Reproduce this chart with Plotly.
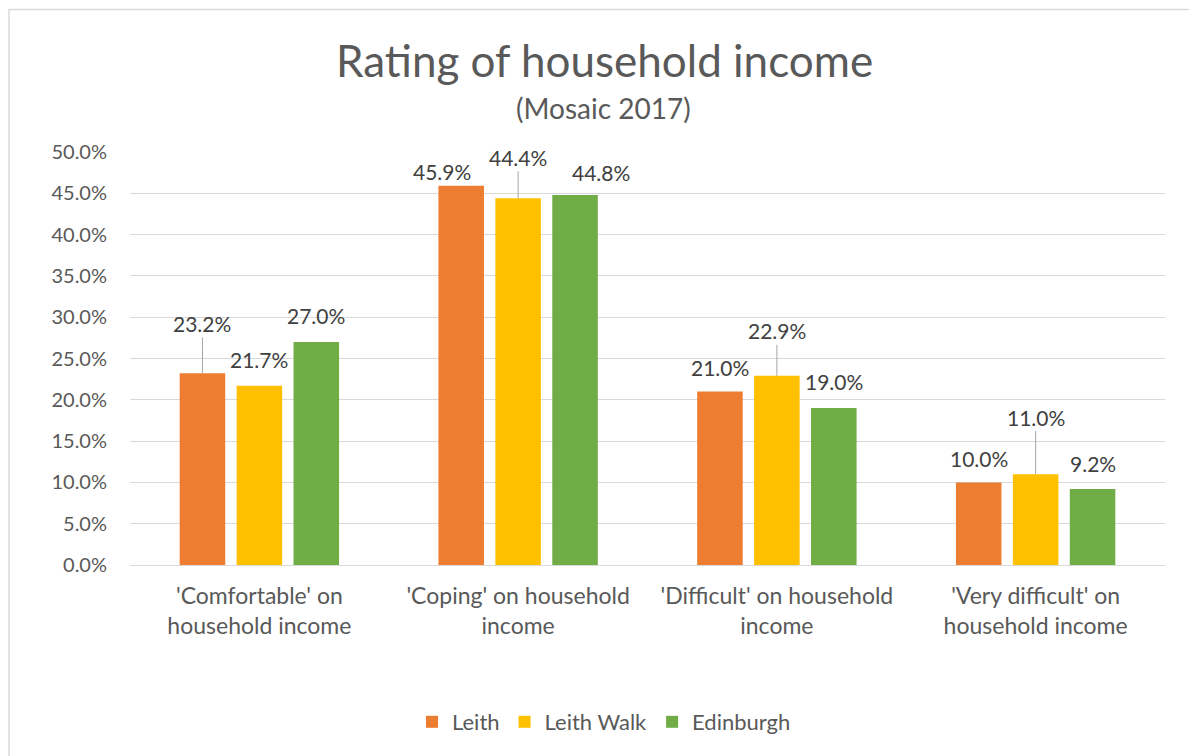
import plotly.graph_objects as go

categories = ["'Comfortable' on<br>household income", "'Coping' on household<br>income",
              "'Difficult' on household<br>income", "'Very difficult' on<br>household income"]
series_names = ["Leith", "Leith Walk", "Edinburgh"]
leith = [0.232, 0.459, 0.210, 0.100]
leith_walk = [0.217, 0.444, 0.229, 0.110]
edinburgh = [0.270, 0.448, 0.190, 0.092]
y_ticks = [0, 0.05, 0.10, 0.15, 0.20, 0.25, 0.30, 0.35, 0.40, 0.45, 0.50]

values = [leith, leith_walk, edinburgh]
colors = ["#ED7D31", "#FFC000", "#70AD47"]

OFF = 8  # page body margin
W, H = 1197 - OFF, 756 - OFF
PLOT_L, PLOT_R, PLOT_T, PLOT_B = 130, 1165, 152, 565  # target page coords
ML, MT = PLOT_L - OFF, PLOT_T - OFF
MR, MB = W - (PLOT_R - OFF), H - (PLOT_B - OFF)
PW, PH = W - ML - MR, H - MT - MB
BARGAP, GROUPGAP = 0.34, 0.2
cat_px = PW / len(categories)
slot_px = cat_px * (1 - BARGAP) / 3


def py(page_y):
    return (PLOT_B - page_y) / PH


def px(page_x):
    return (page_x - PLOT_L) / PW


# label placement (pixel offsets): (dx, dy_center, leader)
label_style = {
    (0, 0): (0, 50, True), (0, 1): (0, 26, False), (0, 2): (0, 26, False),
    (1, 0): (-19, 14, False), (1, 1): (0, 41, True), (1, 2): (26, 22, False),
    (2, 0): (0, 24, False), (2, 1): (0, 45, True), (2, 2): (0, 27, False),
    (3, 0): (0, 24, False), (3, 1): (0, 57, True), (3, 2): (0, 26, False),
}

FONT = "Lato"
LBL = dict(family=FONT, size=21, color="#404040")
fig = go.Figure()
for s, name in enumerate(series_names):
    fig.add_trace(go.Bar(x=categories, y=values[s], name=name, marker_color=colors[s],
                         marker_line_width=0))

annotations = []
for s in range(3):
    for c in range(len(categories)):
        v = values[s][c]
        dx, dy, leader = label_style[(c, s)]
        xs = (s - 1) * slot_px
        txt = f"{v*100:.1f}%"
        if leader:
            annotations.append(dict(x=categories[c], y=v, xref="x", yref="y", text=txt,
                                    xshift=xs, showarrow=True, arrowhead=0, arrowwidth=1,
                                    arrowcolor="#A6A6A6", ax=dx, ay=-dy, standoff=0,
                                    font=LBL))
        else:
            annotations.append(dict(x=categories[c], y=v, xref="x", yref="y", text=txt,
                                    xshift=xs + dx, yshift=dy, showarrow=False,
                                    yanchor="middle", font=LBL))

annotations.append(dict(text="Rating of household income", xref="paper", yref="paper",
                        x=px(604), y=py(60), xanchor="center", yanchor="middle",
                        showarrow=False, font=dict(family=FONT, size=44, color="#595959")))
annotations.append(dict(text="(Mosaic 2017)", xref="paper", yref="paper",
                        x=px(603), y=py(108), xanchor="center", yanchor="middle",
                        showarrow=False, font=dict(family=FONT, size=28, color="#595959")))

fig.update_layout(
    width=W, height=H,
    margin=dict(l=ML, r=MR, t=MT, b=MB, autoexpand=False),
    paper_bgcolor="white", plot_bgcolor="white",
    barmode="group", bargap=BARGAP, bargroupgap=GROUPGAP,
    font=dict(family=FONT, size=20, color="#595959"),
    showlegend=True,
    legend=dict(orientation="h", x=px(604), xanchor="center", y=py(722), yanchor="middle",
                font=dict(family=FONT, size=22, color="#595959"), itemwidth=30,
                traceorder="normal"),
    annotations=annotations,
    shapes=[dict(type="rect", xref="paper", yref="paper",
                 x0=px(9), x1=px(1215),
                 y0=py(775), y1=py(9.5),
                 line=dict(color="#D9D9D9", width=1.5), fillcolor="rgba(0,0,0,0)", layer="below")],
)
fig.update_yaxes(range=[0, 0.5], tickvals=y_ticks, tickformat=".1%", showgrid=True,
                 gridcolor="#D9D9D9", gridwidth=1, zeroline=False, showline=False,
                 ticks="", ticklabelstandoff=22, tickfont=dict(size=20, color="#595959"))
fig.update_xaxes(showline=True, linecolor="#D9D9D9", linewidth=1, ticks="",
                 tickfont=dict(size=23, color="#595959"), ticklabelstandoff=10)

fig.write_html("out.html")
